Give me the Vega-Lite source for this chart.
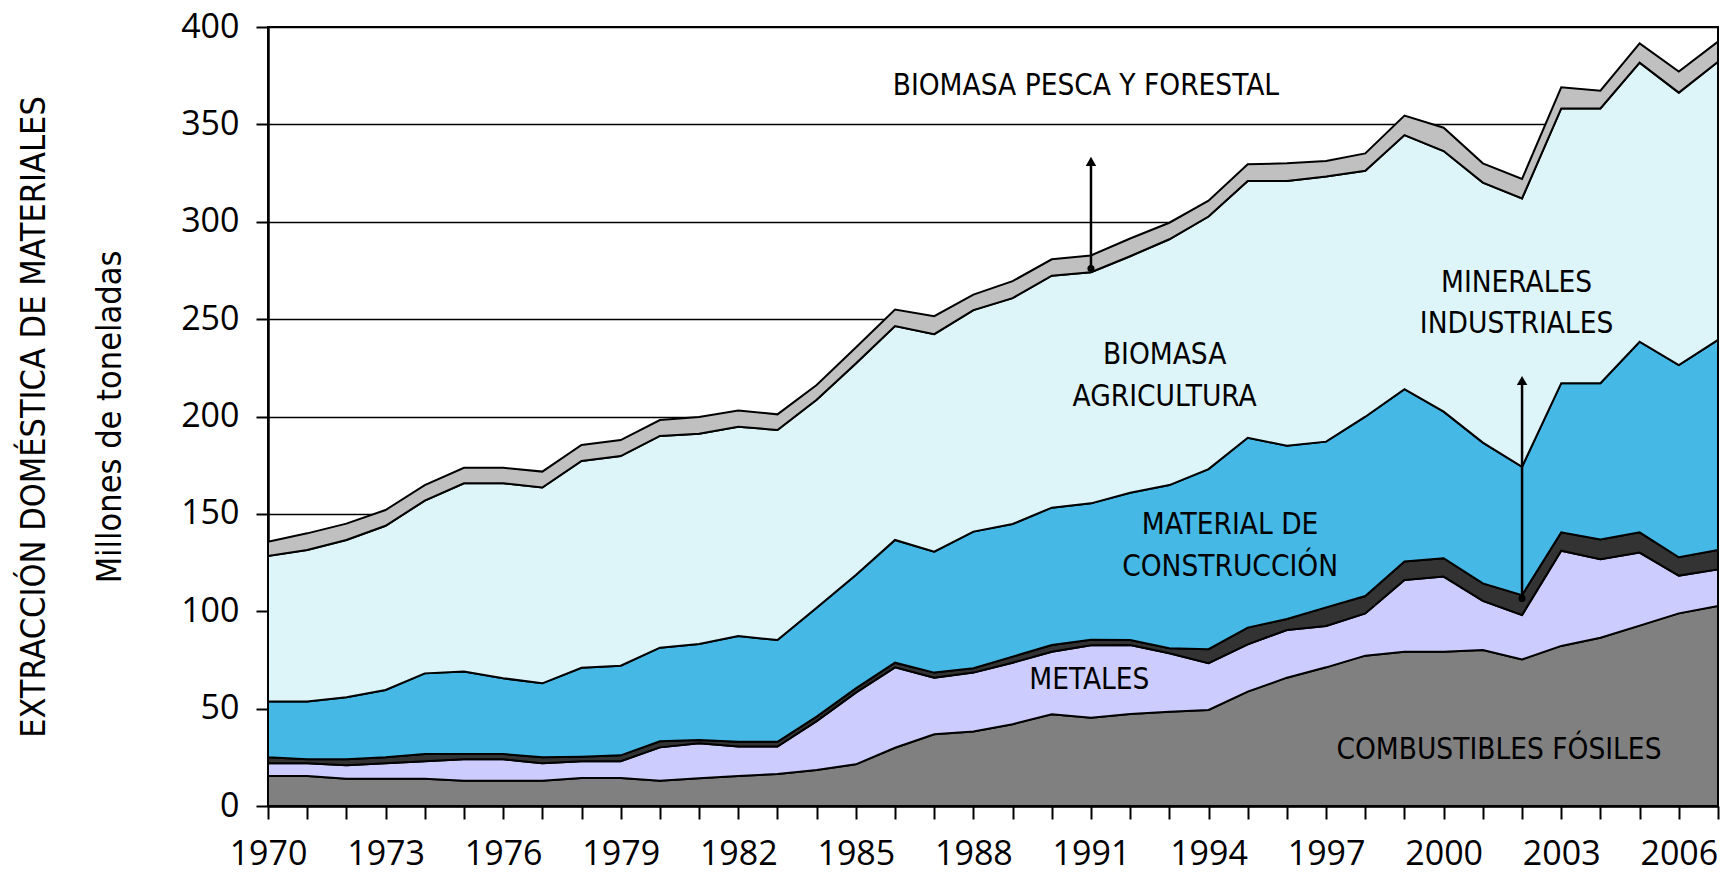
{
  "$schema": "https://vega.github.io/schema/vega-lite/v6.json",
  "autosize": {"type": "none"},
  "width": 1450,
  "height": 779,
  "padding": {"left": 268, "top": 27, "right": 2, "bottom": 69},
  "background": "white",
  "config": {
    "view": {"stroke": "black", "strokeWidth": 2},
    "axis": {"domainColor": "black", "domainWidth": 2.5, "tickColor": "black", "tickWidth": 2, "labelColor": "black", "labelFont": "Open Sans", "labelFontSize": 34, "titleColor": "black"}
  },
  "datasets": {
    "serie": [
      {"anio":1970,"material":"Combustibles fósiles","orden":1,"valor":15.4},
      {"anio":1971,"material":"Combustibles fósiles","orden":1,"valor":15.4},
      {"anio":1972,"material":"Combustibles fósiles","orden":1,"valor":14.0},
      {"anio":1973,"material":"Combustibles fósiles","orden":1,"valor":14.0},
      {"anio":1974,"material":"Combustibles fósiles","orden":1,"valor":14.0},
      {"anio":1975,"material":"Combustibles fósiles","orden":1,"valor":13.0},
      {"anio":1976,"material":"Combustibles fósiles","orden":1,"valor":13.0},
      {"anio":1977,"material":"Combustibles fósiles","orden":1,"valor":13.0},
      {"anio":1978,"material":"Combustibles fósiles","orden":1,"valor":14.4},
      {"anio":1979,"material":"Combustibles fósiles","orden":1,"valor":14.4},
      {"anio":1980,"material":"Combustibles fósiles","orden":1,"valor":13.0},
      {"anio":1981,"material":"Combustibles fósiles","orden":1,"valor":14.2},
      {"anio":1982,"material":"Combustibles fósiles","orden":1,"valor":15.4},
      {"anio":1983,"material":"Combustibles fósiles","orden":1,"valor":16.4},
      {"anio":1984,"material":"Combustibles fósiles","orden":1,"valor":18.5},
      {"anio":1985,"material":"Combustibles fósiles","orden":1,"valor":21.4},
      {"anio":1986,"material":"Combustibles fósiles","orden":1,"valor":29.9},
      {"anio":1987,"material":"Combustibles fósiles","orden":1,"valor":36.8},
      {"anio":1988,"material":"Combustibles fósiles","orden":1,"valor":38.2},
      {"anio":1989,"material":"Combustibles fósiles","orden":1,"valor":42.0},
      {"anio":1990,"material":"Combustibles fósiles","orden":1,"valor":47.1},
      {"anio":1991,"material":"Combustibles fósiles","orden":1,"valor":45.3},
      {"anio":1992,"material":"Combustibles fósiles","orden":1,"valor":47.2},
      {"anio":1993,"material":"Combustibles fósiles","orden":1,"valor":48.4},
      {"anio":1994,"material":"Combustibles fósiles","orden":1,"valor":49.3},
      {"anio":1995,"material":"Combustibles fósiles","orden":1,"valor":58.7},
      {"anio":1996,"material":"Combustibles fósiles","orden":1,"valor":65.9},
      {"anio":1997,"material":"Combustibles fósiles","orden":1,"valor":71.2},
      {"anio":1998,"material":"Combustibles fósiles","orden":1,"valor":77.2},
      {"anio":1999,"material":"Combustibles fósiles","orden":1,"valor":79.2},
      {"anio":2000,"material":"Combustibles fósiles","orden":1,"valor":79.2},
      {"anio":2001,"material":"Combustibles fósiles","orden":1,"valor":80.1},
      {"anio":2002,"material":"Combustibles fósiles","orden":1,"valor":75.3},
      {"anio":2003,"material":"Combustibles fósiles","orden":1,"valor":82.2},
      {"anio":2004,"material":"Combustibles fósiles","orden":1,"valor":86.4},
      {"anio":2005,"material":"Combustibles fósiles","orden":1,"valor":92.6},
      {"anio":2006,"material":"Combustibles fósiles","orden":1,"valor":98.9},
      {"anio":2007,"material":"Combustibles fósiles","orden":1,"valor":102.7},

      {"anio":1970,"material":"Metales","orden":2,"valor":6.5},
      {"anio":1971,"material":"Metales","orden":2,"valor":6.5},
      {"anio":1972,"material":"Metales","orden":2,"valor":6.9},
      {"anio":1973,"material":"Metales","orden":2,"valor":7.9},
      {"anio":1974,"material":"Metales","orden":2,"valor":9.0},
      {"anio":1975,"material":"Metales","orden":2,"valor":11.0},
      {"anio":1976,"material":"Metales","orden":2,"valor":11.0},
      {"anio":1977,"material":"Metales","orden":2,"valor":8.9},
      {"anio":1978,"material":"Metales","orden":2,"valor":8.6},
      {"anio":1979,"material":"Metales","orden":2,"valor":8.6},
      {"anio":1980,"material":"Metales","orden":2,"valor":17.1},
      {"anio":1981,"material":"Metales","orden":2,"valor":18.0},
      {"anio":1982,"material":"Metales","orden":2,"valor":15.1},
      {"anio":1983,"material":"Metales","orden":2,"valor":14.1},
      {"anio":1984,"material":"Metales","orden":2,"valor":25.1},
      {"anio":1985,"material":"Metales","orden":2,"valor":36.8},
      {"anio":1986,"material":"Metales","orden":2,"valor":41.3},
      {"anio":1987,"material":"Metales","orden":2,"valor":29.1},
      {"anio":1988,"material":"Metales","orden":2,"valor":30.3},
      {"anio":1989,"material":"Metales","orden":2,"valor":31.6},
      {"anio":1990,"material":"Metales","orden":2,"valor":32.1},
      {"anio":1991,"material":"Metales","orden":2,"valor":37.2},
      {"anio":1992,"material":"Metales","orden":2,"valor":35.5},
      {"anio":1993,"material":"Metales","orden":2,"valor":30.0},
      {"anio":1994,"material":"Metales","orden":2,"valor":24.0},
      {"anio":1995,"material":"Metales","orden":2,"valor":24.3},
      {"anio":1996,"material":"Metales","orden":2,"valor":24.5},
      {"anio":1997,"material":"Metales","orden":2,"valor":21.2},
      {"anio":1998,"material":"Metales","orden":2,"valor":21.7},
      {"anio":1999,"material":"Metales","orden":2,"valor":36.8},
      {"anio":2000,"material":"Metales","orden":2,"valor":38.6},
      {"anio":2001,"material":"Metales","orden":2,"valor":25.2},
      {"anio":2002,"material":"Metales","orden":2,"valor":22.8},
      {"anio":2003,"material":"Metales","orden":2,"valor":48.9},
      {"anio":2004,"material":"Metales","orden":2,"valor":40.3},
      {"anio":2005,"material":"Metales","orden":2,"valor":37.5},
      {"anio":2006,"material":"Metales","orden":2,"valor":19.4},
      {"anio":2007,"material":"Metales","orden":2,"valor":18.8},

      {"anio":1970,"material":"Minerales industriales","orden":3,"valor":3.1},
      {"anio":1971,"material":"Minerales industriales","orden":3,"valor":2.1},
      {"anio":1972,"material":"Minerales industriales","orden":3,"valor":3.1},
      {"anio":1973,"material":"Minerales industriales","orden":3,"valor":3.1},
      {"anio":1974,"material":"Minerales industriales","orden":3,"valor":3.7},
      {"anio":1975,"material":"Minerales industriales","orden":3,"valor":2.7},
      {"anio":1976,"material":"Minerales industriales","orden":3,"valor":2.7},
      {"anio":1977,"material":"Minerales industriales","orden":3,"valor":3.1},
      {"anio":1978,"material":"Minerales industriales","orden":3,"valor":2.3},
      {"anio":1979,"material":"Minerales industriales","orden":3,"valor":3.0},
      {"anio":1980,"material":"Minerales industriales","orden":3,"valor":3.1},
      {"anio":1981,"material":"Minerales industriales","orden":3,"valor":1.7},
      {"anio":1982,"material":"Minerales industriales","orden":3,"valor":2.5},
      {"anio":1983,"material":"Minerales industriales","orden":3,"valor":2.5},
      {"anio":1984,"material":"Minerales industriales","orden":3,"valor":2.3},
      {"anio":1985,"material":"Minerales industriales","orden":3,"valor":2.2},
      {"anio":1986,"material":"Minerales industriales","orden":3,"valor":2.4},
      {"anio":1987,"material":"Minerales industriales","orden":3,"valor":2.6},
      {"anio":1988,"material":"Minerales industriales","orden":3,"valor":2.2},
      {"anio":1989,"material":"Minerales industriales","orden":3,"valor":3.1},
      {"anio":1990,"material":"Minerales industriales","orden":3,"valor":3.5},
      {"anio":1991,"material":"Minerales industriales","orden":3,"valor":2.9},
      {"anio":1992,"material":"Minerales industriales","orden":3,"valor":2.5},
      {"anio":1993,"material":"Minerales industriales","orden":3,"valor":2.6},
      {"anio":1994,"material":"Minerales industriales","orden":3,"valor":7.2},
      {"anio":1995,"material":"Minerales industriales","orden":3,"valor":8.6},
      {"anio":1996,"material":"Minerales industriales","orden":3,"valor":5.6},
      {"anio":1997,"material":"Minerales industriales","orden":3,"valor":9.6},
      {"anio":1998,"material":"Minerales industriales","orden":3,"valor":8.9},
      {"anio":1999,"material":"Minerales industriales","orden":3,"valor":9.5},
      {"anio":2000,"material":"Minerales industriales","orden":3,"valor":9.4},
      {"anio":2001,"material":"Minerales industriales","orden":3,"valor":9.0},
      {"anio":2002,"material":"Minerales industriales","orden":3,"valor":10.2},
      {"anio":2003,"material":"Minerales industriales","orden":3,"valor":9.4},
      {"anio":2004,"material":"Minerales industriales","orden":3,"valor":10.2},
      {"anio":2005,"material":"Minerales industriales","orden":3,"valor":10.4},
      {"anio":2006,"material":"Minerales industriales","orden":3,"valor":9.4},
      {"anio":2007,"material":"Minerales industriales","orden":3,"valor":10.0},

      {"anio":1970,"material":"Material de construcción","orden":4,"valor":28.6},
      {"anio":1971,"material":"Material de construcción","orden":4,"valor":29.6},
      {"anio":1972,"material":"Material de construcción","orden":4,"valor":31.8},
      {"anio":1973,"material":"Material de construcción","orden":4,"valor":34.6},
      {"anio":1974,"material":"Material de construcción","orden":4,"valor":41.4},
      {"anio":1975,"material":"Material de construcción","orden":4,"valor":42.3},
      {"anio":1976,"material":"Material de construcción","orden":4,"valor":38.9},
      {"anio":1977,"material":"Material de construcción","orden":4,"valor":38.0},
      {"anio":1978,"material":"Material de construcción","orden":4,"valor":45.7},
      {"anio":1979,"material":"Material de construcción","orden":4,"valor":46.0},
      {"anio":1980,"material":"Material de construcción","orden":4,"valor":48.1},
      {"anio":1981,"material":"Material de construcción","orden":4,"valor":49.3},
      {"anio":1982,"material":"Material de construcción","orden":4,"valor":54.3},
      {"anio":1983,"material":"Material de construcción","orden":4,"valor":52.2},
      {"anio":1984,"material":"Material de construcción","orden":4,"valor":55.9},
      {"anio":1985,"material":"Material de construcción","orden":4,"valor":58.2},
      {"anio":1986,"material":"Material de construcción","orden":4,"valor":63.0},
      {"anio":1987,"material":"Material de construcción","orden":4,"valor":62.1},
      {"anio":1988,"material":"Material de construcción","orden":4,"valor":70.2},
      {"anio":1989,"material":"Material de construcción","orden":4,"valor":68.1},
      {"anio":1990,"material":"Material de construcción","orden":4,"valor":70.5},
      {"anio":1991,"material":"Material de construcción","orden":4,"valor":70.0},
      {"anio":1992,"material":"Material de construcción","orden":4,"valor":75.6},
      {"anio":1993,"material":"Material de construcción","orden":4,"valor":83.8},
      {"anio":1994,"material":"Material de construcción","orden":4,"valor":92.5},
      {"anio":1995,"material":"Material de construcción","orden":4,"valor":97.5},
      {"anio":1996,"material":"Material de construcción","orden":4,"valor":89.0},
      {"anio":1997,"material":"Material de construcción","orden":4,"valor":85.1},
      {"anio":1998,"material":"Material de construcción","orden":4,"valor":92.1},
      {"anio":1999,"material":"Material de construcción","orden":4,"valor":88.5},
      {"anio":2000,"material":"Material de construcción","orden":4,"valor":75.3},
      {"anio":2001,"material":"Material de construcción","orden":4,"valor":72.3},
      {"anio":2002,"material":"Material de construcción","orden":4,"valor":65.9},
      {"anio":2003,"material":"Material de construcción","orden":4,"valor":76.6},
      {"anio":2004,"material":"Material de construcción","orden":4,"valor":80.2},
      {"anio":2005,"material":"Material de construcción","orden":4,"valor":97.9},
      {"anio":2006,"material":"Material de construcción","orden":4,"valor":98.7},
      {"anio":2007,"material":"Material de construcción","orden":4,"valor":107.8},

      {"anio":1970,"material":"Biomasa agricultura","orden":5,"valor":74.8},
      {"anio":1971,"material":"Biomasa agricultura","orden":5,"valor":77.9},
      {"anio":1972,"material":"Biomasa agricultura","orden":5,"valor":80.8},
      {"anio":1973,"material":"Biomasa agricultura","orden":5,"valor":84.3},
      {"anio":1974,"material":"Biomasa agricultura","orden":5,"valor":88.7},
      {"anio":1975,"material":"Biomasa agricultura","orden":5,"valor":96.7},
      {"anio":1976,"material":"Biomasa agricultura","orden":5,"valor":100.1},
      {"anio":1977,"material":"Biomasa agricultura","orden":5,"valor":100.5},
      {"anio":1978,"material":"Biomasa agricultura","orden":5,"valor":106.2},
      {"anio":1979,"material":"Biomasa agricultura","orden":5,"valor":107.7},
      {"anio":1980,"material":"Biomasa agricultura","orden":5,"valor":108.7},
      {"anio":1981,"material":"Biomasa agricultura","orden":5,"valor":107.9},
      {"anio":1982,"material":"Biomasa agricultura","orden":5,"valor":107.4},
      {"anio":1983,"material":"Biomasa agricultura","orden":5,"valor":107.9},
      {"anio":1984,"material":"Biomasa agricultura","orden":5,"valor":106.8},
      {"anio":1985,"material":"Biomasa agricultura","orden":5,"valor":108.6},
      {"anio":1986,"material":"Biomasa agricultura","orden":5,"valor":109.8},
      {"anio":1987,"material":"Biomasa agricultura","orden":5,"valor":111.7},
      {"anio":1988,"material":"Biomasa agricultura","orden":5,"valor":113.7},
      {"anio":1989,"material":"Biomasa agricultura","orden":5,"valor":116.0},
      {"anio":1990,"material":"Biomasa agricultura","orden":5,"valor":119.1},
      {"anio":1991,"material":"Biomasa agricultura","orden":5,"valor":118.7},
      {"anio":1992,"material":"Biomasa agricultura","orden":5,"valor":121.5},
      {"anio":1993,"material":"Biomasa agricultura","orden":5,"valor":126.2},
      {"anio":1994,"material":"Biomasa agricultura","orden":5,"valor":129.7},
      {"anio":1995,"material":"Biomasa agricultura","orden":5,"valor":131.8},
      {"anio":1996,"material":"Biomasa agricultura","orden":5,"valor":135.9},
      {"anio":1997,"material":"Biomasa agricultura","orden":5,"valor":136.1},
      {"anio":1998,"material":"Biomasa agricultura","orden":5,"valor":126.3},
      {"anio":1999,"material":"Biomasa agricultura","orden":5,"valor":130.5},
      {"anio":2000,"material":"Biomasa agricultura","orden":5,"valor":133.8},
      {"anio":2001,"material":"Biomasa agricultura","orden":5,"valor":133.5},
      {"anio":2002,"material":"Biomasa agricultura","orden":5,"valor":137.8},
      {"anio":2003,"material":"Biomasa agricultura","orden":5,"valor":141.1},
      {"anio":2004,"material":"Biomasa agricultura","orden":5,"valor":141.1},
      {"anio":2005,"material":"Biomasa agricultura","orden":5,"valor":143.3},
      {"anio":2006,"material":"Biomasa agricultura","orden":5,"valor":139.9},
      {"anio":2007,"material":"Biomasa agricultura","orden":5,"valor":142.9},

      {"anio":1970,"material":"Biomasa pesca y forestal","orden":6,"valor":7.3},
      {"anio":1971,"material":"Biomasa pesca y forestal","orden":6,"valor":8.5},
      {"anio":1972,"material":"Biomasa pesca y forestal","orden":6,"valor":8.4},
      {"anio":1973,"material":"Biomasa pesca y forestal","orden":6,"valor":8.1},
      {"anio":1974,"material":"Biomasa pesca y forestal","orden":6,"valor":8.0},
      {"anio":1975,"material":"Biomasa pesca y forestal","orden":6,"valor":8.0},
      {"anio":1976,"material":"Biomasa pesca y forestal","orden":6,"valor":8.0},
      {"anio":1977,"material":"Biomasa pesca y forestal","orden":6,"valor":8.2},
      {"anio":1978,"material":"Biomasa pesca y forestal","orden":6,"valor":8.2},
      {"anio":1979,"material":"Biomasa pesca y forestal","orden":6,"valor":8.2},
      {"anio":1980,"material":"Biomasa pesca y forestal","orden":6,"valor":8.2},
      {"anio":1981,"material":"Biomasa pesca y forestal","orden":6,"valor":8.7},
      {"anio":1982,"material":"Biomasa pesca y forestal","orden":6,"valor":8.4},
      {"anio":1983,"material":"Biomasa pesca y forestal","orden":6,"valor":8.0},
      {"anio":1984,"material":"Biomasa pesca y forestal","orden":6,"valor":7.6},
      {"anio":1985,"material":"Biomasa pesca y forestal","orden":6,"valor":8.2},
      {"anio":1986,"material":"Biomasa pesca y forestal","orden":6,"valor":8.5},
      {"anio":1987,"material":"Biomasa pesca y forestal","orden":6,"valor":9.2},
      {"anio":1988,"material":"Biomasa pesca y forestal","orden":6,"valor":8.0},
      {"anio":1989,"material":"Biomasa pesca y forestal","orden":6,"valor":8.7},
      {"anio":1990,"material":"Biomasa pesca y forestal","orden":6,"valor":8.4},
      {"anio":1991,"material":"Biomasa pesca y forestal","orden":6,"valor":8.6},
      {"anio":1992,"material":"Biomasa pesca y forestal","orden":6,"valor":9.1},
      {"anio":1993,"material":"Biomasa pesca y forestal","orden":6,"valor":8.5},
      {"anio":1994,"material":"Biomasa pesca y forestal","orden":6,"valor":8.1},
      {"anio":1995,"material":"Biomasa pesca y forestal","orden":6,"valor":8.6},
      {"anio":1996,"material":"Biomasa pesca y forestal","orden":6,"valor":9.1},
      {"anio":1997,"material":"Biomasa pesca y forestal","orden":6,"valor":8.0},
      {"anio":1998,"material":"Biomasa pesca y forestal","orden":6,"valor":8.9},
      {"anio":1999,"material":"Biomasa pesca y forestal","orden":6,"valor":10.0},
      {"anio":2000,"material":"Biomasa pesca y forestal","orden":6,"valor":12.0},
      {"anio":2001,"material":"Biomasa pesca y forestal","orden":6,"valor":9.9},
      {"anio":2002,"material":"Biomasa pesca y forestal","orden":6,"valor":10.0},
      {"anio":2003,"material":"Biomasa pesca y forestal","orden":6,"valor":10.8},
      {"anio":2004,"material":"Biomasa pesca y forestal","orden":6,"valor":9.1},
      {"anio":2005,"material":"Biomasa pesca y forestal","orden":6,"valor":9.9},
      {"anio":2006,"material":"Biomasa pesca y forestal","orden":6,"valor":10.8},
      {"anio":2007,"material":"Biomasa pesca y forestal","orden":6,"valor":10.3}
    ],
    "flechas": [
      {"anio": 1991, "desde": 276, "hasta": 331},
      {"anio": 2002, "desde": 106.6, "hasta": 218.5}
    ],
    "etiquetas": [
      {"texto": "BIOMASA PESCA Y FORESTAL", "anio": 1990.87, "valor": 369.5},
      {"texto": "BIOMASA", "anio": 1992.88, "valor": 231.6},
      {"texto": "AGRICULTURA", "anio": 1992.88, "valor": 210.2},
      {"texto": "MINERALES", "anio": 2001.86, "valor": 268.8},
      {"texto": "INDUSTRIALES", "anio": 2001.86, "valor": 247.5},
      {"texto": "MATERIAL DE", "anio": 1994.55, "valor": 144.3},
      {"texto": "CONSTRUCCIÓN", "anio": 1994.55, "valor": 122.5},
      {"texto": "METALES", "anio": 1990.96, "valor": 64.8},
      {"texto": "COMBUSTIBLES FÓSILES", "anio": 2001.41, "valor": 29.0}
    ]
  },
  "layer": [
    {
      "data": {"name": "serie"},
      "mark": {"type": "area", "stroke": "black", "strokeWidth": 2, "strokeJoin": "miter", "opacity": 1},
      "encoding": {
        "x": {
          "field": "anio", "type": "quantitative",
          "scale": {"domain": [1970, 2007], "nice": false, "zero": false},
          "axis": {
            "title": null,
            "values": [1970,1971,1972,1973,1974,1975,1976,1977,1978,1979,1980,1981,1982,1983,1984,1985,1986,1987,1988,1989,1990,1991,1992,1993,1994,1995,1996,1997,1998,1999,2000,2001,2002,2003,2004,2005,2006,2007],
            "tickCount": 60,
            "labelExpr": "((datum.value - 1970) % 3 == 0 && datum.value < 2007) ? '' + datum.value : ''",
            "labelOverlap": false,
            "labelFlush": false,
            "tickSize": 13,
            "labelPadding": 18,
            "grid": false
          }
        },
        "y": {
          "field": "valor", "type": "quantitative", "stack": "zero",
          "scale": {"domain": [0, 400], "nice": false},
          "axis": {
            "values": [0, 50, 100, 150, 200, 250, 300, 350, 400],
            "tickCount": 20,
            "format": "d",
            "grid": true,
            "gridColor": "black",
            "gridWidth": 1.6,
            "gridOpacity": 1,
            "tickSize": 12,
            "labelPadding": 17,
            "title": ["EXTRACCIÓN DOMÉSTICA DE MATERIALES", "Millones de toneladas"],
            "titleFont": "DejaVu Sans Condensed",
            "titleFontSize": 34,
            "titleFontWeight": "normal",
            "titleLineHeight": 76,
            "titlePadding": 53
          }
        },
        "color": {
          "field": "material", "type": "nominal", "legend": null,
          "scale": {
            "domain": ["Combustibles fósiles", "Metales", "Minerales industriales", "Material de construcción", "Biomasa agricultura", "Biomasa pesca y forestal"],
            "range": ["#808080", "#CCCCFF", "#333333", "#45B8E5", "#DDF4F9", "#C0C0C0"]
          }
        },
        "order": {"field": "orden", "type": "quantitative", "sort": "ascending"}
      }
    },
    {
      "data": {"name": "flechas"},
      "mark": {"type": "rule", "color": "black", "strokeWidth": 2.5},
      "encoding": {
        "x": {"field": "anio", "type": "quantitative"},
        "y": {"field": "desde", "type": "quantitative"},
        "y2": {"field": "hasta"}
      }
    },
    {
      "data": {"name": "flechas"},
      "mark": {"type": "point", "shape": "triangle-up", "filled": true, "color": "black", "size": 110, "opacity": 1},
      "encoding": {
        "x": {"field": "anio", "type": "quantitative"},
        "y": {"field": "hasta", "type": "quantitative"}
      }
    },
    {
      "data": {"name": "flechas"},
      "mark": {"type": "point", "shape": "circle", "filled": true, "color": "black", "size": 50, "opacity": 1},
      "encoding": {
        "x": {"field": "anio", "type": "quantitative"},
        "y": {"field": "desde", "type": "quantitative"}
      }
    },
    {
      "data": {"name": "etiquetas"},
      "mark": {"type": "text", "font": "DejaVu Sans Condensed", "fontSize": 29.5, "color": "black", "align": "center", "baseline": "middle"},
      "encoding": {
        "x": {"field": "anio", "type": "quantitative"},
        "y": {"field": "valor", "type": "quantitative"},
        "text": {"field": "texto"}
      }
    }
  ]
}
